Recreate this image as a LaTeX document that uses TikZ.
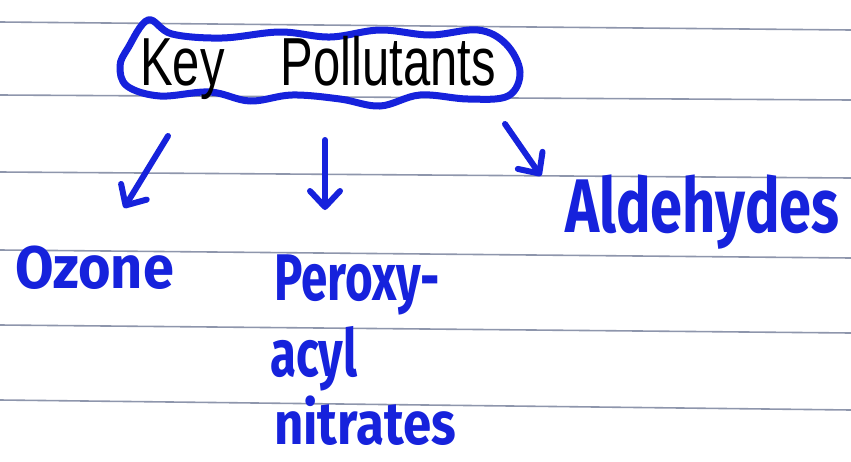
\documentclass[tikz,border=0pt]{standalone}
\usepackage{fontspec}
\setmainfont{Liberation Sans}
\newfontfamily\marker{Fira Sans}
\usetikzlibrary{arrows.meta}
\definecolor{ink}{RGB}{22,34,220}
\definecolor{rule}{RGB}{105,115,145}
\tikzset{
  ruleline/.style={draw=rule, line width=1.6pt, opacity=0.75},
  cloud/.style={draw=ink, line width=7pt, line join=round},
  penarrow/.style={draw=ink, line width=6pt, line cap=round,
    -{Straight Barb[length=16pt,width=30pt,line width=6pt, round]}},
  label/.style={text=ink, inner sep=0pt, anchor=base west},
}
\begin{document}
\begin{tikzpicture}[x=1pt,y=-1pt]
\useasboundingbox (0,0) rectangle (851,461);
\fill[white] (0,0) rectangle (851,461);
% ruled lines
\foreach \a/\b in {22/30, 95/100, 172/178, 250/258, 325/333, 400/410}
  \draw[ruleline] (0,\a) -- (851,\b);
% cloud
\draw[cloud] plot[smooth cycle, tension=0.6] coordinates {
 (128,48) (148,20) (172,34) (222,38) (280,32) (330,37) (380,30) (430,35)
 (478,30) (506,44) (520,72) (508,96) (468,99) (420,95) (380,106) (340,99)
 (292,95) (250,101) (210,92) (160,96) (127,86) (120,66)};
\node[inner sep=0pt, xscale=0.72, font=\fontsize{68}{68}\selectfont] (key) at (318,68) {Key\hspace{78pt}Pollutants};
% endpoints
\coordinate (a1s) at (168,136);
\coordinate (a1e) at (124,208);
\coordinate (a2s) at (325,140);
\coordinate (a2e) at (325,210);
\coordinate (a3s) at (505,124);
\coordinate (a3e) at (541,176);
\draw[penarrow] (a1s) -- (a1e);
\draw[penarrow] (a2s) -- (a2e);
\draw[penarrow] (a3s) -- (a3e);
% labels
\node[label, xscale=0.93, font=\marker\bfseries\fontsize{60}{60}\selectfont] (ozone) at (15,288) {Ozone};
\node[label, xscale=0.72, font=\marker\bfseries\fontsize{66}{66}\selectfont] (p1) at (274,300) {Peroxy-};
\node[label, xscale=0.72, font=\marker\bfseries\fontsize{66}{66}\selectfont] (p2) at (270,376) {acyl};
\node[label, xscale=0.85, font=\marker\bfseries\fontsize{60}{60}\selectfont] (p3) at (274,444) {nitrates};
\node[label, xscale=0.76, font=\marker\bfseries\fontsize{76}{76}\selectfont] (ald) at (565,232) {Aldehydes};
\end{tikzpicture}
\end{document}
